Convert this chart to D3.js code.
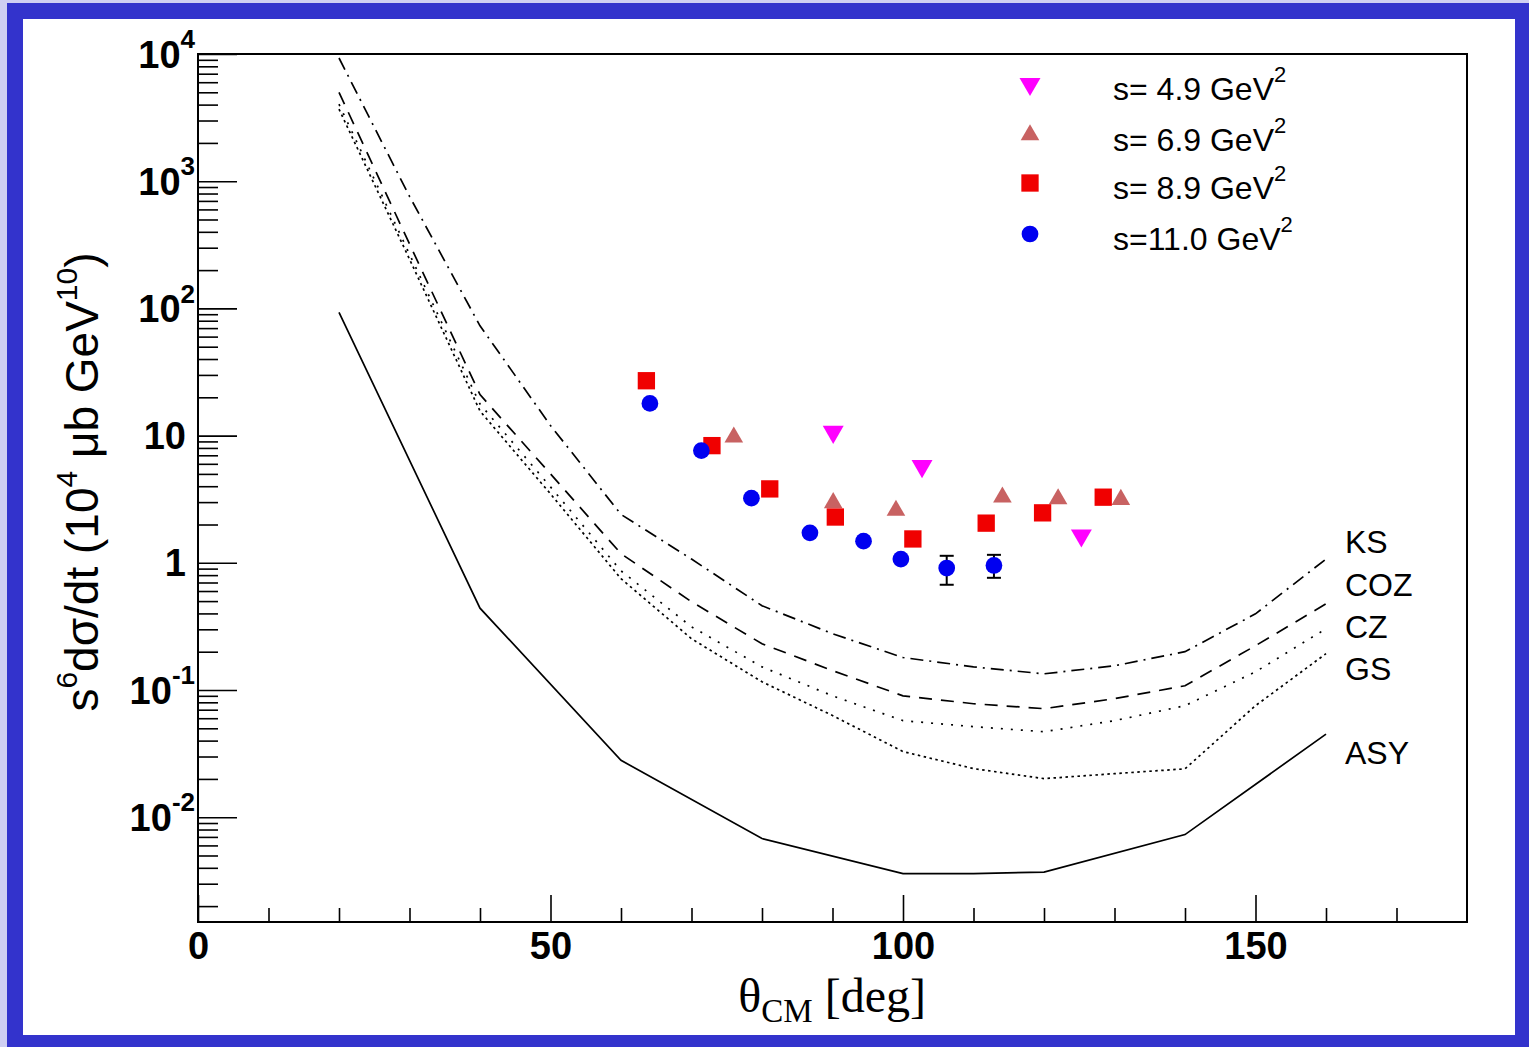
<!DOCTYPE html>
<html>
<head>
<meta charset="utf-8">
<script src="https://cdn.jsdelivr.net/npm/d3@7"></script>
<style>
  body { margin: 0; background: #fff; }
  text { font-family: "Liberation Sans", Arial, sans-serif; }
</style>
</head>
<body>
<script>
// theta_CM grid of the model curves (deg)
const curveAngles = [20, 30, 40, 50, 60, 70, 80, 90, 100, 110, 120, 130, 140, 150, 160];
const ksValues  = [9300, 760, 73, 12, 2.4, 1.07, 0.46, 0.277, 0.18, 0.152, 0.134, 0.155, 0.2, 0.397, 1.07];
const cozValues = [5000, 321, 21, 5.0, 1.18, 0.494, 0.231, 0.142, 0.090, 0.078, 0.0713, 0.0855, 0.108, 0.223, 0.476];
const czValues  = [4030, 267, 17.7, 3.95, 0.865, 0.314, 0.152, 0.090, 0.0574, 0.0515, 0.047, 0.0574, 0.0753, 0.139, 0.303];
const gsValues  = [3680, 244, 15.6, 3.48, 0.75, 0.253, 0.116, 0.063, 0.0328, 0.0241, 0.0201, 0.022, 0.024, 0.0753, 0.193];
const asyAngles = [20, 40, 60, 80, 100, 110, 120, 140, 160];
const asyValues = [93, 0.44, 0.028, 0.0068, 0.0036, 0.0036, 0.0037, 0.0073, 0.045];

// measured points
const s49Angles = [90.1, 102.7, 125.3];
const s49Values = [10.7, 5.75, 1.64];
const s69Angles = [76.0, 90.1, 99.0, 114.1, 122.0, 130.9];
const s69Values = [9.71, 2.96, 2.58, 3.28, 3.18, 3.14];
const s89Angles = [63.6, 72.9, 81.1, 90.4, 101.4, 111.8, 119.8, 128.4];
const s89Values = [27.0, 8.34, 3.81, 2.29, 1.54, 2.05, 2.47, 3.28];
const s110Angles = [64.1, 71.4, 78.5, 86.8, 94.4, 99.7, 106.2, 112.9];
const s110Values = [17.9, 7.62, 3.22, 1.72, 1.48, 1.07, 0.91, 0.953];
const s110Low  = [null, null, null, null, null, null, 0.672, 0.762];
const s110High = [null, null, null, null, null, null, 1.135, 1.155];

const xMajor = [0, 50, 100, 150];
const xMinor = [10, 20, 30, 40, 60, 70, 80, 90, 110, 120, 130, 140, 160, 170];
const yMajorExp = [-2, -1, 0, 1, 2, 3, 4];

const W = 1529, H = 1047;
const margin = { top: 54, right: 62, bottom: 125, left: 198 };

const svg = d3.select("body").append("svg")
    .attr("width", W)
    .attr("height", H);

// blue slide frame
svg.append("rect").attr("width", W).attr("height", H).attr("fill", "#cfcff2");
svg.append("rect").attr("x", 7).attr("y", 3).attr("width", W - 7).attr("height", H - 3).attr("fill", "#3333cc");
svg.append("rect").attr("x", 23).attr("y", 19).attr("width", 1515 - 23).attr("height", 1035 - 19).attr("fill", "#fff");

const x = d3.scaleLinear()
    .domain([0, 180])
    .range([margin.left, W - margin.right]);

const y = d3.scaleLog()
    .domain([0.0015, 1e4])
    .range([H - margin.bottom, margin.top]);

svg.append("defs").append("clipPath").attr("id", "plotclip")
  .append("rect")
    .attr("x", x(0)).attr("y", y(1e4))
    .attr("width", x(180) - x(0)).attr("height", y(0.0015) - y(1e4));

// axes (ticks inside the frame)
const xAxisG = svg.append("g").attr("transform", `translate(0,${y(0.0015)})`);
xAxisG.append("g").call(d3.axisBottom(x).tickValues(xMinor).tickSize(-14).tickFormat(""));
xAxisG.append("g").call(d3.axisBottom(x).tickValues(xMajor).tickSize(-27).tickPadding(10).tickFormat(d3.format("d")));
xAxisG.selectAll(".domain").remove();
xAxisG.selectAll("line").attr("stroke", "#000").attr("stroke-width", 1.6);
xAxisG.selectAll("text")
    .attr("font-size", 38)
    .attr("font-weight", "bold")
    .attr("fill", "#000");

const yMinor = [];
d3.range(-3, 4).forEach(e => {
  for (let m = 2; m <= 9; m++) {
    const v = m * Math.pow(10, e);
    if (v >= 0.0015 && v < 1e4) yMinor.push(v);
  }
});

const yAxisG = svg.append("g").attr("transform", `translate(${x(0)},0)`);
yAxisG.append("g").call(d3.axisLeft(y).tickValues(yMinor).tickSize(-20).tickFormat(""));
yAxisG.append("g").call(d3.axisLeft(y).tickValues(yMajorExp.map(e => Math.pow(10, e))).tickSize(-39).tickFormat(""));
yAxisG.selectAll(".domain").remove();
yAxisG.selectAll("line").attr("stroke", "#000").attr("stroke-width", 1.6);

const yLab = svg.append("g")
    .attr("font-size", 38)
    .attr("font-weight", "bold")
    .attr("text-anchor", "end")
  .selectAll("text")
  .data(yMajorExp)
  .enter().append("text")
    .attr("x", d => (d === 0 || d === 1) ? 186 : 195)
    .attr("y", d => y(Math.pow(10, d)))
    .attr("dy", "0.36em");
yLab.each(function(d) {
  const t = d3.select(this);
  if (d === 0) { t.text("1"); return; }
  if (d === 1) { t.text("10"); return; }
  t.append("tspan").text("10");
  t.append("tspan").attr("font-size", 26).attr("dy", "-0.75em").text(d);
});

// frame
svg.append("rect")
    .attr("x", x(0)).attr("y", y(1e4))
    .attr("width", x(180) - x(0)).attr("height", y(0.0015) - y(1e4))
    .attr("fill", "none").attr("stroke", "#000").attr("stroke-width", 2);

// model curves
const line = d3.line().x(d => x(d[0])).y(d => y(d[1]));
const curves = [
  { name: "KS",  xs: curveAngles, ys: ksValues,  dash: "13,6,2,6", label: 553 },
  { name: "COZ", xs: curveAngles, ys: cozValues, dash: "13,9",     label: 596 },
  { name: "CZ",  xs: curveAngles, ys: czValues,  dash: "2,8",      label: 638 },
  { name: "GS",  xs: curveAngles, ys: gsValues,  dash: "2.5,3.5",  label: 680 },
  { name: "ASY", xs: asyAngles,   ys: asyValues, dash: null,       label: 764 }
];

const curveG = svg.append("g").attr("clip-path", "url(#plotclip)");
curveG.selectAll("path")
  .data(curves)
  .enter().append("path")
    .attr("d", c => line(c.xs.map((a, i) => [a, c.ys[i]])))
    .attr("fill", "none")
    .attr("stroke", "#000")
    .attr("stroke-width", 1.7)
    .attr("stroke-dasharray", c => c.dash);

svg.append("g")
    .attr("font-size", 32)
  .selectAll("text")
  .data(curves)
  .enter().append("text")
    .attr("x", 1345)
    .attr("y", c => c.label)
    .text(c => c.name);

// data points
const series = [
  { label: "s= 4.9 GeV", xs: s49Angles,  ys: s49Values,  color: "#ff00ff", sym: d3.symbolTriangle, size: 190, rot: 180, ly: 84 },
  { label: "s= 6.9 GeV", xs: s69Angles,  ys: s69Values,  color: "#c86262", sym: d3.symbolTriangle, size: 150, rot: 0,   ly: 135 },
  { label: "s= 8.9 GeV", xs: s89Angles,  ys: s89Values,  color: "#f00000", sym: d3.symbolSquare,   size: 300, rot: 0,   ly: 183 },
  { label: "s=11.0 GeV", xs: s110Angles, ys: s110Values, color: "#0000f0", sym: d3.symbolCircle,   size: 220, rot: 0,   ly: 234 }
];

// error bars (s=11.0)
const errG = svg.append("g").attr("stroke", "#000").attr("stroke-width", 2);
s110Angles.forEach((a, i) => {
  if (s110Low[i] == null) return;
  errG.append("line").attr("x1", x(a)).attr("x2", x(a)).attr("y1", y(s110Low[i])).attr("y2", y(s110High[i]));
  errG.append("line").attr("x1", x(a) - 7).attr("x2", x(a) + 7).attr("y1", y(s110Low[i])).attr("y2", y(s110Low[i]));
  errG.append("line").attr("x1", x(a) - 7).attr("x2", x(a) + 7).attr("y1", y(s110High[i])).attr("y2", y(s110High[i]));
});

series.forEach(s => {
  svg.append("g").selectAll("path")
    .data(s.xs.map((a, i) => [a, s.ys[i]]))
    .enter().append("path")
      .attr("d", d3.symbol().type(s.sym).size(s.size))
      .attr("transform", d => `translate(${x(d[0])},${y(d[1])}) rotate(${s.rot})`)
      .attr("fill", s.color);
});

// legend
const legend = svg.append("g")
  .selectAll("g")
  .data(series)
  .enter().append("g")
    .attr("transform", d => `translate(1030,${d.ly})`);

legend.append("path")
    .attr("d", d => d3.symbol().type(d.sym).size(d.size)())
    .attr("transform", d => `rotate(${d.rot})`)
    .attr("fill", d => d.color);

const legText = legend.append("text")
    .attr("x", 83)
    .attr("y", 4)
    .attr("dy", "0.36em")
    .attr("font-size", 32);
legText.append("tspan").text(d => d.label);
legText.append("tspan").attr("font-size", 22).attr("dy", "-0.8em").text("2");

// axis titles
const yTitle = svg.append("text")
    .attr("transform", "translate(98,482) rotate(-90)")
    .attr("text-anchor", "middle")
    .attr("font-size", 46);
yTitle.append("tspan").text("s");
yTitle.append("tspan").attr("font-size", 30).attr("dy", "-0.7em").text("6");
yTitle.append("tspan").attr("dy", "0.46em").text("dσ/dt (10");
yTitle.append("tspan").attr("font-size", 30).attr("dy", "-0.7em").text("4");
yTitle.append("tspan").attr("dy", "0.46em").text(" μb GeV");
yTitle.append("tspan").attr("font-size", 30).attr("dy", "-0.7em").text("10");
yTitle.append("tspan").attr("dy", "0.46em").text(")");

const xTitle = svg.append("text")
    .attr("x", 926)
    .attr("y", 1012)
    .attr("text-anchor", "end")
    .attr("font-size", 48)
    .style("font-family", "'Liberation Serif', 'Times New Roman', serif");
xTitle.append("tspan").text("θ");
xTitle.append("tspan").attr("font-size", 33).attr("dy", 10).text("CM");
xTitle.append("tspan").attr("dy", -10).text(" [deg]");
</script>
</body>
</html>
